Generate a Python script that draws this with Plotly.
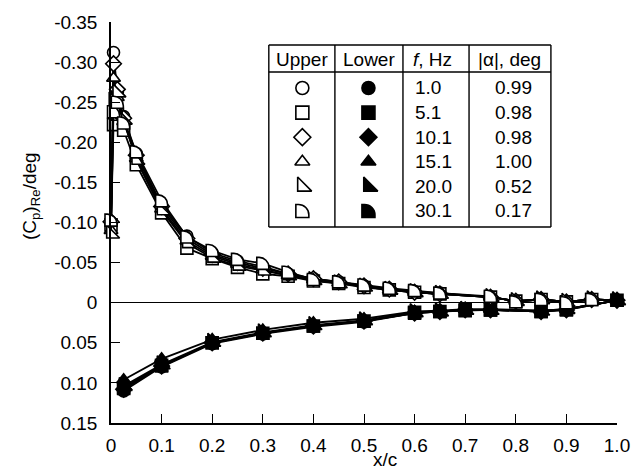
import plotly.graph_objects as go

# ---- data -------------------------------------------------------------
freq_hz = ["1.0", "5.1", "10.1", "15.1", "20.0", "30.1"]
alpha_deg = ["0.99", "0.98", "0.98", "1.00", "0.52", "0.17"]

x_upper = [0, 0.005, 0.0125, 0.025, 0.05, 0.1, 0.15, 0.2, 0.25, 0.3, 0.35, 0.4,
           0.45, 0.5, 0.55, 0.6, 0.65, 0.75, 0.8, 0.85, 0.9, 0.95, 1.0]
x_lower = [0.025, 0.1, 0.2, 0.3, 0.4, 0.5, 0.6, 0.65, 0.7, 0.75, 0.85, 0.9, 1.0]

upper_1_0 = [-0.100, -0.312, -0.262, -0.232, -0.186, -0.122, -0.083, -0.062, -0.052, -0.045, -0.036, -0.030,
             -0.026, -0.021, -0.017, -0.014, -0.012, -0.007, -0.002, -0.004, -0.001, -0.004, -0.003]
upper_5_1 = [-0.097, -0.222, -0.235, -0.215, -0.172, -0.112, -0.068, -0.055, -0.044, -0.036, -0.033, -0.027,
             -0.024, -0.019, -0.016, -0.013, -0.011, -0.007, -0.002, -0.004, -0.001, -0.004, -0.003]
upper_10_1 = [-0.101, -0.298, -0.266, -0.230, -0.184, -0.120, -0.080, -0.060, -0.050, -0.043, -0.036, -0.030,
              -0.026, -0.021, -0.017, -0.013, -0.011, -0.007, -0.002, -0.004, -0.001, -0.004, -0.003]
upper_15_1 = [-0.090, -0.280, -0.256, -0.226, -0.180, -0.117, -0.077, -0.058, -0.048, -0.041, -0.034, -0.029,
              -0.025, -0.020, -0.016, -0.013, -0.011, -0.007, -0.002, -0.004, -0.001, -0.004, -0.003]
upper_20_0 = [-0.086, -0.252, -0.262, -0.228, -0.178, -0.115, -0.074, -0.056, -0.046, -0.040, -0.034, -0.028,
              -0.024, -0.020, -0.016, -0.013, -0.011, -0.007, -0.002, -0.004, -0.001, -0.004, -0.003]
upper_30_1 = [-0.103, -0.238, -0.250, -0.224, -0.188, -0.127, -0.082, -0.065, -0.054, -0.049, -0.038, -0.029,
              -0.026, -0.022, -0.018, -0.015, -0.012, -0.008, -0.001, -0.004, 0.000, -0.004, -0.003]

lower_1_0 = [0.110, 0.080, 0.051, 0.039, 0.030, 0.024, 0.013, 0.011, 0.009, 0.009, 0.011, 0.008, -0.003]
lower_5_1 = [0.106, 0.078, 0.050, 0.038, 0.029, 0.023, 0.012, 0.011, 0.009, 0.009, 0.011, 0.008, -0.003]
lower_10_1 = [0.108, 0.079, 0.050, 0.038, 0.029, 0.023, 0.013, 0.011, 0.009, 0.009, 0.011, 0.009, -0.003]
lower_15_1 = [0.096, 0.070, 0.046, 0.034, 0.025, 0.020, 0.011, 0.010, 0.008, 0.008, 0.010, 0.008, -0.003]
lower_20_0 = [0.104, 0.077, 0.049, 0.037, 0.028, 0.022, 0.012, 0.011, 0.009, 0.009, 0.010, 0.008, -0.003]
lower_30_1 = [0.107, 0.079, 0.050, 0.038, 0.029, 0.023, 0.013, 0.011, 0.010, 0.009, 0.011, 0.009, -0.003]

upper_sets = [upper_1_0, upper_5_1, upper_10_1, upper_15_1, upper_20_0, upper_30_1]
lower_sets = [lower_1_0, lower_5_1, lower_10_1, lower_15_1, lower_20_0, lower_30_1]

x_ticks = [0, 0.1, 0.2, 0.3, 0.4, 0.5, 0.6, 0.7, 0.8, 0.9, 1.0]
x_ticktext = ["0", "0.1", "0.2", "0.3", "0.4", "0.5", "0.6", "0.7", "0.8", "0.9", "1.0"]
y_ticks = [-0.35, -0.30, -0.25, -0.20, -0.15, -0.10, -0.05, 0, 0.05, 0.10, 0.15]
y_ticktext = ["-0.35", "-0.30", "-0.25", "-0.20", "-0.15", "-0.10", "-0.05", "0", "0.05", "0.10", "0.15"]

# ---- styling ----------------------------------------------------------
FONT = "Liberation Sans, Arial, Helvetica, sans-serif"
W, H = 642, 470
L, R, T, B = 111, 18, 22, 47
PW, PH = W - L - R, H - T - B

MS = 12          # data marker size
LS = 13          # key marker size
LW_LINE = 1.8    # connecting line width
LW_MK = 1.6      # marker outline width
# "dglyph" markers are re-shaped into a rounded quarter-disc after drawing
symbols = ["circle", "square", "diamond", "triangle-up", "triangle-sw", "dglyph"]
# plotly's right triangle is drawn smaller than the other symbols at equal size
size_scale = {"triangle-sw": 1.2}

fig = go.Figure()


def series(x, y, sym, size, fill, mode="lines+markers", xaxis="x", yaxis="y"):
    is_d = sym == "dglyph"
    k = size_scale.get(sym, 1.0)
    sz = [s * k for s in size] if isinstance(size, list) else size * k
    return go.Scatter(x=x, y=y, mode=mode, name="dglyph" if is_d else sym,
                      line=dict(color="black", width=LW_LINE),
                      marker=dict(symbol="circle" if is_d else sym, size=sz, color=fill, opacity=1,
                                  line=dict(color="black", width=LW_MK)),
                      cliponaxis=False, hoverinfo="skip", xaxis=xaxis, yaxis=yaxis)


# lower surface (filled symbols)
for sym, yv in zip(symbols, lower_sets):
    fig.add_trace(series(x_lower, yv, sym, MS, "black"))

# upper surface (open symbols); the trailing-edge point shows the lower-surface marker
upper_sizes = [MS] * (len(x_upper) - 1) + [0]
for sym, yv in zip(symbols, upper_sets):
    fig.add_trace(series(x_upper, yv, sym, upper_sizes, "white"))


# ---- key table (pixel layout converted to paper coordinates) ----------
def px(x):
    return (x - L) / PW


def py(y):
    return (T + PH - y) / PH


tbl_x = [271, 338, 407, 474, 557]
tbl_top, tbl_head, tbl_bot = 45, 72, 227
row_y = [88 + 24.6 * i for i in range(6)]

shapes = []
line_style = dict(color="black", width=1.4)
for xv in tbl_x:
    shapes.append(dict(type="line", xref="paper", yref="paper", x0=px(xv), x1=px(xv),
                       y0=py(tbl_top), y1=py(tbl_bot), line=line_style))
for yv in (tbl_top, tbl_head, tbl_bot):
    shapes.append(dict(type="line", xref="paper", yref="paper", x0=px(tbl_x[0]), x1=px(tbl_x[-1]),
                       y0=py(yv), y1=py(yv), line=line_style))

ann = []
txt_font = dict(family=FONT, size=19, color="black")
ann.append(dict(text="Upper", x=px(304.5), y=py(59), xanchor="center"))
ann.append(dict(text="Lower", x=px(372.5), y=py(59), xanchor="center"))
ann.append(dict(text="<i>f</i>, Hz", x=px(415), y=py(59), xanchor="left"))
ann.append(dict(text="|α|, deg", x=px(481), y=py(59), xanchor="left"))
for i in range(6):
    ann.append(dict(text=freq_hz[i], x=px(417), y=py(row_y[i]), xanchor="left"))
    ann.append(dict(text=alpha_deg[i], x=px(540), y=py(row_y[i]), xanchor="right"))
for a in ann:
    a.update(xref="paper", yref="paper", yanchor="middle", showarrow=False, font=txt_font)

# axis titles
ann.append(dict(text="(C<sub>p</sub>)<sub>Re</sub>/deg", x=px(30), y=py(196), xref="paper", yref="paper",
                textangle=-90, showarrow=False, xanchor="center", yanchor="middle", font=txt_font))
ann.append(dict(text="x/c", x=px(389), y=py(459), xref="paper", yref="paper",
                showarrow=False, xanchor="center", yanchor="middle", font=txt_font))

# key glyphs on an overlay axis spanning the plot area in pixels
col_up, col_lo = 305, 372
for i, sym in enumerate(symbols):
    fig.add_trace(series([col_up], [row_y[i]], sym, LS, "white", "markers", "x2", "y2"))
    fig.add_trace(series([col_lo], [row_y[i]], sym, LS, "black", "markers", "x2", "y2"))

fig.update_layout(
    width=W, height=H,
    margin=dict(l=L, r=R, t=T, b=B, pad=0),
    paper_bgcolor="white", plot_bgcolor="white",
    showlegend=False,
    font=dict(family=FONT, size=19, color="black"),
    shapes=shapes, annotations=ann,
    xaxis=dict(range=[0, 1.0], tickvals=x_ticks, ticktext=x_ticktext,
               showline=True, linecolor="black", linewidth=1.5,
               ticks="inside", ticklen=9, tickwidth=1.3, tickcolor="black",
               showgrid=False, zeroline=False, ticklabelstandoff=4,
               tickfont=txt_font),
    yaxis=dict(range=[0.15, -0.35], tickvals=y_ticks, ticktext=y_ticktext,
               showline=True, linecolor="black", linewidth=1.5,
               ticks="inside", ticklen=9, tickwidth=1.3, tickcolor="black",
               showgrid=False, zeroline=True, zerolinecolor="black", zerolinewidth=1,
               ticklabelstandoff=8, tickfont=txt_font),
    xaxis2=dict(overlaying="x", range=[L, L + PW], visible=False, anchor="y2"),
    yaxis2=dict(overlaying="y", range=[T + PH, T], visible=False, anchor="x2"),
)

# Reshape the "dglyph" point paths into a disc quadrant: flat left and bottom edges,
# rounded top-right corner (same bounding box as the circle it replaces).
reshape_js = """
var gd = document.getElementById('{plot_id}');
var groups = gd.querySelectorAll('g.scatterlayer g.trace');
for (var i = 0; i < groups.length; i++) {
  var cd = groups[i].__data__;
  if (!cd || !cd[0] || !cd[0].trace || cd[0].trace.name !== 'dglyph') continue;
  var pts = groups[i].querySelectorAll('path.point');
  for (var j = 0; j < pts.length; j++) {
    var r = pts[j].getBBox().width / 2;
    if (!(r > 0)) continue;
    var a = 1.6 * r;
    pts[j].setAttribute('d', 'M' + (-r) + ',' + r + 'V' + (-r) + 'H' + (r - a) +
      'A' + a + ',' + a + ' 0 0 1 ' + r + ',' + (a - r) + 'V' + r + 'Z');
  }
}
"""

fig.write_html("out.html", post_script=reshape_js)
